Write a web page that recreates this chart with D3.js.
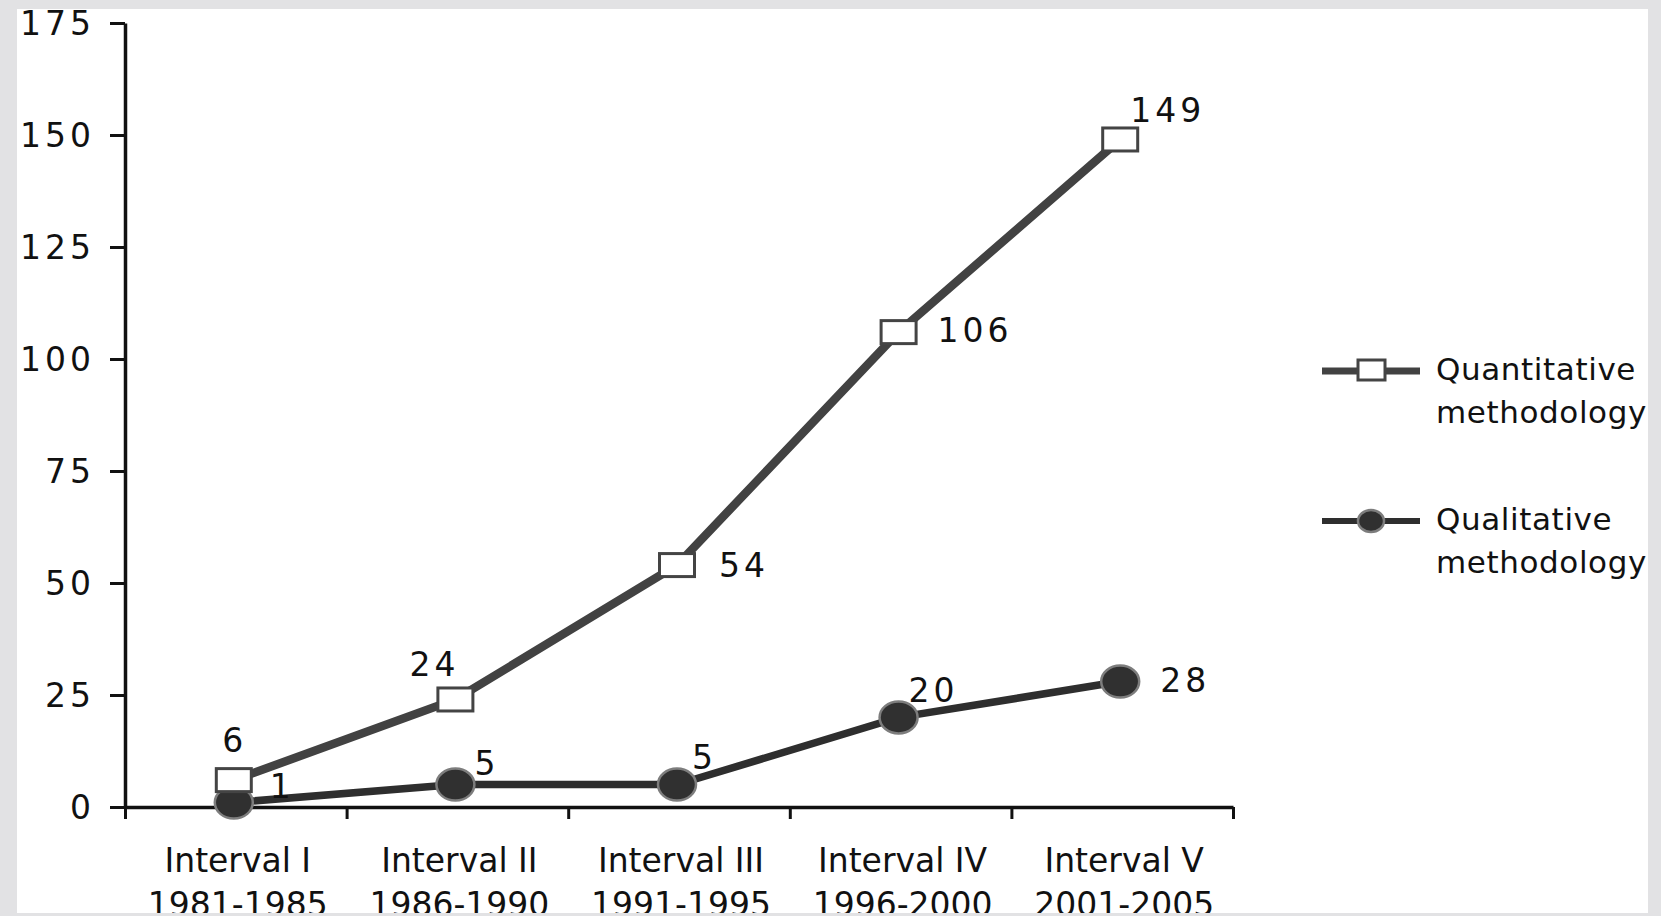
<!DOCTYPE html>
<html>
<head>
<meta charset="utf-8">
<script src="https://cdn.jsdelivr.net/npm/d3@7"></script>
<style>
  html, body { margin: 0; padding: 0; background: #e2e2e4; }
  svg { display: block; }
  text { font-family: "DejaVu Sans", sans-serif; fill: #111; }
</style>
</head>
<body>
<svg id="chart" width="1661" height="916"></svg>
<script>
// Publications per five-year interval, by methodology
const categories = ["Interval I", "Interval II", "Interval III", "Interval IV", "Interval V"];
const periods = ["1981-1985", "1986-1990", "1991-1995", "1996-2000", "2001-2005"];
const quantitative = [6, 24, 54, 106, 149];
const qualitative = [1, 5, 5, 20, 28];
const yTicks = [0, 25, 50, 75, 100, 125, 150, 175];
const seriesNames = ["Quantitative methodology", "Qualitative methodology"];

const svg = d3.select("#chart");
const W = 1661, H = 916;

// white plotting page inside the grey frame
svg.append("rect").attr("x", 17).attr("y", 9).attr("width", 1631).attr("height", 904).attr("fill", "#fff");

const x = d3.scaleBand().domain(categories).range([125, 1233]);
const xEdge = d3.scaleLinear().domain([0, categories.length]).range([125, 1233]);
const y = d3.scaleLinear().domain([0, 175]).range([807, 23]);
const cx = c => x(c) + x.bandwidth() / 2 - 2;

// y axis
const yAxis = svg.append("g").attr("transform", "translate(125,0)")
  .call(d3.axisLeft(y).tickValues(yTicks).tickSize(15).tickSizeOuter(0).tickPadding(15));
yAxis.select(".domain").attr("stroke", "#111").attr("stroke-width", 3.5);
yAxis.selectAll(".tick line").attr("stroke", "#111").attr("stroke-width", 3);
yAxis.selectAll(".tick text")
  .style("font-size", "33px").style("letter-spacing", "4px")
  .attr("font-family", null).attr("fill", "#111").attr("dy", "0.36em");

// x axis with ticks on the interval boundaries
const xAxis = svg.append("g").attr("transform", "translate(0,807)")
  .call(d3.axisBottom(xEdge).ticks(categories.length).tickFormat("").tickSize(12).tickSizeOuter(0));
xAxis.select(".domain").attr("stroke", "#111").attr("stroke-width", 3.5);
xAxis.selectAll(".tick line").attr("stroke", "#111").attr("stroke-width", 3);

// category labels, two lines each
const xl = svg.append("g").selectAll("text").data(categories).join("text")
  .attr("x", c => x(c) + x.bandwidth() / 2 + 2)
  .attr("y", 872)
  .attr("text-anchor", "middle")
  .style("font-size", "33px");
xl.append("tspan").attr("x", c => x(c) + x.bandwidth() / 2 + 2).text(c => c);
xl.append("tspan").attr("x", c => x(c) + x.bandwidth() / 2 + 2).attr("dy", 44)
  .text((c, i) => periods[i]);

// series lines
const line = d3.line().x((d, i) => cx(categories[i])).y(d => y(d));
svg.append("path").datum(quantitative).attr("d", line)
  .attr("fill", "none").attr("stroke", "#424242").attr("stroke-width", 8.5);
svg.append("path").datum(qualitative).attr("d", line)
  .attr("fill", "none").attr("stroke", "#2e2e2e").attr("stroke-width", 7.5);

// markers
svg.append("g").selectAll("ellipse").data(qualitative).join("ellipse")
  .attr("cx", (d, i) => cx(categories[i])).attr("cy", d => y(d))
  .attr("rx", 19).attr("ry", 16)
  .attr("fill", "#303030").attr("stroke", "#7d7d7d").attr("stroke-width", 2.5);
svg.append("g").selectAll("rect").data(quantitative).join("rect")
  .attr("x", (d, i) => cx(categories[i]) - 17.5).attr("y", d => y(d) - 11.5)
  .attr("width", 35).attr("height", 23)
  .attr("fill", "#fff").attr("stroke", "#444").attr("stroke-width", 3);

// value labels: [dx, dy, anchor] relative to each marker
const quantPlace = [[1, -28, "middle"], [-21, -23, "middle"], [42, 12, "start"], [39, 10, "start"], [10, -17, "start"]];
const qualPlace = [[36, -5, "start"], [19, -10, "start"], [15, -16, "start"], [10, -15, "start"], [40, 10, "start"]];
function valueLabels(values, place) {
  svg.append("g").selectAll("text").data(values).join("text")
    .attr("x", (d, i) => cx(categories[i]) + place[i][0])
    .attr("y", (d, i) => y(d) + place[i][1])
    .attr("text-anchor", (d, i) => place[i][2])
    .style("font-size", "33px").style("letter-spacing", "4px")
    .text(d => d);
}
valueLabels(quantitative, quantPlace);
valueLabels(qualitative, qualPlace);

// legend
const legend = svg.append("g");
const legendRows = [
  { name: seriesNames[0], y: 371, stroke: "#424242", width: 7, marker: "square" },
  { name: seriesNames[1], y: 521, stroke: "#2e2e2e", width: 6, marker: "circle" }
];
legendRows.forEach(r => {
  legend.append("line").attr("x1", 1322).attr("x2", 1420).attr("y1", r.y).attr("y2", r.y)
    .attr("stroke", r.stroke).attr("stroke-width", r.width);
  if (r.marker === "square") {
    legend.append("rect").attr("x", 1358).attr("y", r.y - 11).attr("width", 27).attr("height", 20)
      .attr("fill", "#fff").attr("stroke", "#444").attr("stroke-width", 3);
  } else {
    legend.append("ellipse").attr("cx", 1371).attr("cy", r.y).attr("rx", 13).attr("ry", 11)
      .attr("fill", "#303030").attr("stroke", "#7d7d7d").attr("stroke-width", 2.5);
  }
  const words = r.name.split(" ");
  const t = legend.append("text").attr("x", 1436).attr("y", r.y + 9)
    .style("font-size", "31px").style("letter-spacing", "0.6px");
  t.append("tspan").attr("x", 1436).text(words[0]);
  t.append("tspan").attr("x", 1436).attr("dy", 43).text(words[1]);
});

// grey frame drawn over the page edges
const frame = svg.append("g").attr("fill", "#e2e2e4");
frame.append("rect").attr("x", 0).attr("y", 0).attr("width", W).attr("height", 9);
frame.append("rect").attr("x", 0).attr("y", 0).attr("width", 17).attr("height", H);
frame.append("rect").attr("x", 1648).attr("y", 0).attr("width", 13).attr("height", H);
frame.append("rect").attr("x", 0).attr("y", 913).attr("width", W).attr("height", 3);
</script>
</body>
</html>
